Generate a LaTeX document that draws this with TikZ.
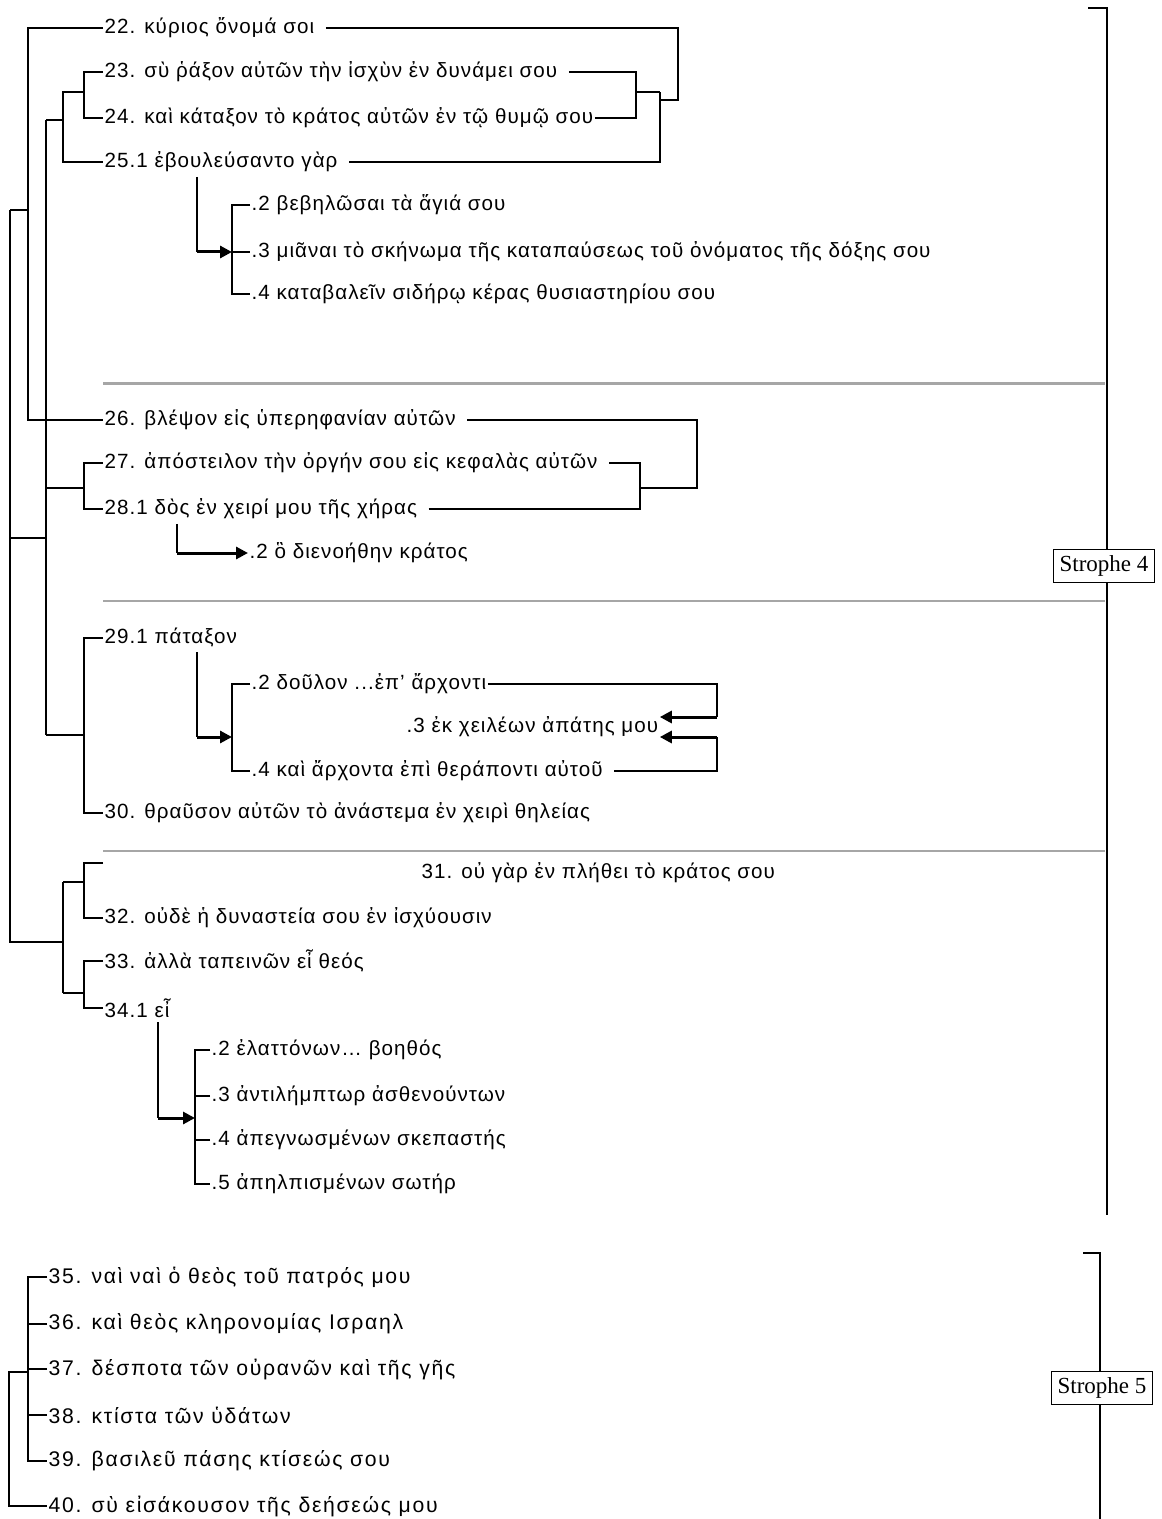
\documentclass[tikz,border=0pt]{standalone}
\usepackage{fontspec}
\setmainfont{Liberation Sans}
\newfontfamily\versefont[LetterSpace=5]{Liberation Sans}
\newfontfamily\versefontwide[LetterSpace=8]{Liberation Sans}
\newfontfamily\strophefont{Liberation Serif}
\usetikzlibrary{arrows.meta}

\begin{document}
\begin{tikzpicture}[
  x=0.5pt,y=-0.5pt,line width=0.7pt,
  verse/.style={anchor=west,inner xsep=0.5pt,inner ysep=2pt,
    font=\versefont\fontsize{10.3}{12}\selectfont},
  verse5/.style={verse,font=\versefontwide\fontsize{10.6}{12}\selectfont},
  gap/.style={shorten <=5pt},
  bigarrow/.style={-{Triangle[length=6pt,width=6pt]},line width=1.5pt},
  divider/.style={draw=gray!70,line width=1pt},
  strophe/.style={draw,fill=white,inner sep=3pt,
    font=\strophefont\fontsize{11.5}{13}\selectfont}
]
\useasboundingbox (0,0) rectangle (1161,1519);

% strophe 4
\node[verse] (v22) at (103,28) {22. κύριος ὄνομά σοι};
\node[verse] (v23) at (103,72) {23. σὺ ῥάξον αὐτῶν τὴν ἰσχὺν ἐν δυνάμει σου};
\node[verse] (v24) at (103,118) {24. καὶ κάταξον τὸ κράτος αὐτῶν ἐν τῷ θυμῷ σου};
\node[verse] (v25) at (103,162) {25.1 ἐβουλεύσαντο γὰρ};
\node[verse] (s2) at (250,205) {.2 βεβηλῶσαι τὰ ἅγιά σου};
\node[verse] (s3) at (250,252) {.3 μιᾶναι τὸ σκήνωμα τῆς καταπαύσεως τοῦ ὀνόματος τῆς δόξης σου};
\node[verse] (s4) at (250,294) {.4 καταβαλεῖν σιδήρῳ κέρας θυσιαστηρίου σου};
\node[verse] (v26) at (103,420) {26. βλέψον εἰς ὑπερηφανίαν αὐτῶν};
\node[verse] (v27) at (103,463) {27. ἀπόστειλον τὴν ὀργήν σου εἰς κεφαλὰς αὐτῶν};
\node[verse] (v28) at (103,509) {28.1 δὸς ἐν χειρί μου τῆς χήρας};
\node[verse] (t2) at (248,553) {.2 ὃ διενοήθην κράτος};
\node[verse] (v29) at (103,638) {29.1 πάταξον};
\node[verse] (u2) at (250,684) {.2 δοῦλον ...ἐπ’ ἄρχοντι};
\node[verse] (u3) at (405,727) {.3 ἐκ χειλέων ἀπάτης μου};
\node[verse] (u4) at (250,771) {.4 καὶ ἄρχοντα ἐπὶ θεράποντι αὐτοῦ};
\node[verse] (v30) at (103,813) {30. θραῦσον αὐτῶν τὸ ἀνάστεμα ἐν χειρὶ θηλείας};
\node[verse] (v31) at (420,873) {31. οὐ γὰρ ἐν πλήθει τὸ κράτος σου};
\node[verse] (v32) at (103,918) {32. οὐδὲ ἡ δυναστεία σου ἐν ἰσχύουσιν};
\node[verse] (v33) at (103,961) {33. ἀλλὰ ταπεινῶν εἶ θεός};
\node[verse] (v34) at (103,1008) {34.1 εἶ};
\node[verse] (w2) at (210,1050) {.2 ἐλαττόνων… βοηθός};
\node[verse] (w3) at (210,1096) {.3 ἀντιλήμπτωρ ἀσθενούντων};
\node[verse] (w4) at (210,1140) {.4 ἀπεγνωσμένων σκεπαστής};
\node[verse] (w5) at (210,1184) {.5 ἀπηλπισμένων σωτήρ};

% strophe 5
\node[verse5] (v35) at (47,1277) {35. ναὶ ναὶ ὁ θεὸς τοῦ πατρός μου};
\node[verse5] (v36) at (47,1324) {36. καὶ θεὸς κληρονομίας Ισραηλ};
\node[verse5] (v37) at (47,1369) {37. δέσποτα τῶν οὐρανῶν καὶ τῆς γῆς};
\node[verse5] (v38) at (47,1415) {38. κτίστα τῶν ὑδάτων};
\node[verse5] (v39) at (47,1461) {39. βασιλεῦ πάσης κτίσεώς σου};
\node[verse5] (v40) at (47,1506) {40. σὺ εἰσάκουσον τῆς δεήσεώς μου};

% junctions
\coordinate (m0) at (10,210);
\coordinate (m1) at (28,210);
\coordinate (m2) at (84,92);
\coordinate (m3) at (63,92);
\coordinate (m4) at (46,120);
\coordinate (m6) at (46,735);
\coordinate (m7) at (84,488);
\coordinate (m8) at (84,735);
\coordinate (m10) at (10,538);
\coordinate (m11) at (10,942);
\coordinate (m12) at (63,942);
\coordinate (m13) at (63,882);
\coordinate (m14) at (63,993);
\coordinate (c31) at (103,863);
\coordinate (m15) at (84,882);
\coordinate (m16) at (84,993);
\coordinate (m17) at (28,1372);
\coordinate (m18) at (9,1372);
\coordinate (q1) at (636,92);
\coordinate (q2) at (660,92);
\coordinate (q3) at (678,100);
\coordinate (q4) at (660,100);
\coordinate (p1) at (640,488);
\coordinate (p2) at (697,488);
\coordinate (n1) at (717,717);
\coordinate (n2) at (717,737);
\coordinate (a1) at (197,252);
\coordinate (g1) at (232,252);
\coordinate (a2) at (177,553);
\coordinate (a3) at (197,737);
\coordinate (g2) at (232,737);
\coordinate (a4) at (158,1118);
\coordinate (g3) at (195,1118);

% left tree
\draw (m0) -- (m1);
\draw (v22.west) -| (m1) |- (v26.west);
\draw (v23.west) -| (m2) |- (v24.west);
\draw (m2) -- (m3) |- (v25.west);
\draw (m4) -- (m4 -| m3);
\draw (m4) -- (m6);
\draw (v27.west) -| (m7) |- (v28.west);
\draw (m7) -- (m7 -| m4);
\draw (v29.west) -| (m8) |- (v30.west);
\draw (m6) -- (m8);
\draw (m10) -- (m10 -| m4);
\draw (m0) -- (m11) -- (m12);
\draw (m13) -- (m14);
\draw (c31) -| (m15) |- (v32.west);
\draw (m13) -- (m15);
\draw (v33.west) -| (m16) |- (v34.west);
\draw (m14) -- (m16);

% right brackets
\draw[gap] (v23.east) -| (q1);
\draw (v24.east) -| (q1);
\draw (q1) -- (q2);
\draw[gap] (v25.east) -| (q2);
\draw[gap] (v22.east) -| (q3) -- (q4);
\draw[gap] (v27.east) -| (p1);
\draw[gap] (v28.east) -| (p1);
\draw[gap] (v26.east) -| (p2) -- (p1);
\draw (u2.east) -| (n1);
\draw[gap] (u4.east) -| (n2);
\draw[bigarrow] (n1) -- (n1 -| u3.east);
\draw[bigarrow] (n2) -- (n2 -| u3.east);

% sub-clauses
\draw (a1 |- v25.south) -- (a1);
\draw[bigarrow] (a1) -- (g1);
\draw (s2.west) -| (g1) |- (s4.west);
\draw (g1) -- (s3.west);
\draw (a2 |- v28.south) -- (a2);
\draw[bigarrow] (a2) -- (t2.west);
\draw (a3 |- v29.south) -- (a3);
\draw[bigarrow] (a3) -- (g2);
\draw (u2.west) -| (g2) |- (u4.west);
\draw (a4 |- v34.south) -- (a4);
\draw[bigarrow] (a4) -- (g3);
\draw (w2.west) -| (g3) |- (w5.west);
\draw (w3.west) -- (w3.west -| g3);
\draw (w4.west) -- (w4.west -| g3);

% strophe 5 tree
\draw (v35.west) -| (m17) |- (v39.west);
\draw (v36.west) -- (v36.west -| m17);
\draw (v37.west) -- (v37.west -| m17);
\draw (v38.west) -- (v38.west -| m17);
\draw (m17) -- (m18) |- (v40.west);

% dividers
\draw[divider,line width=1.5pt] (103,383) -- (1105,383);
\draw[divider] (103,601) -- (1105,601);
\draw[divider] (103,851) -- (1105,851);

% strophe markers
\draw (1088,8) -| (1107,1215);
\node[strophe] (st4) at (1104,566) {Strophe 4};
\draw (1083,1253) -| (1100,1519);
\node[strophe] (st5) at (1102,1388) {Strophe 5};
\end{tikzpicture}
\end{document}
